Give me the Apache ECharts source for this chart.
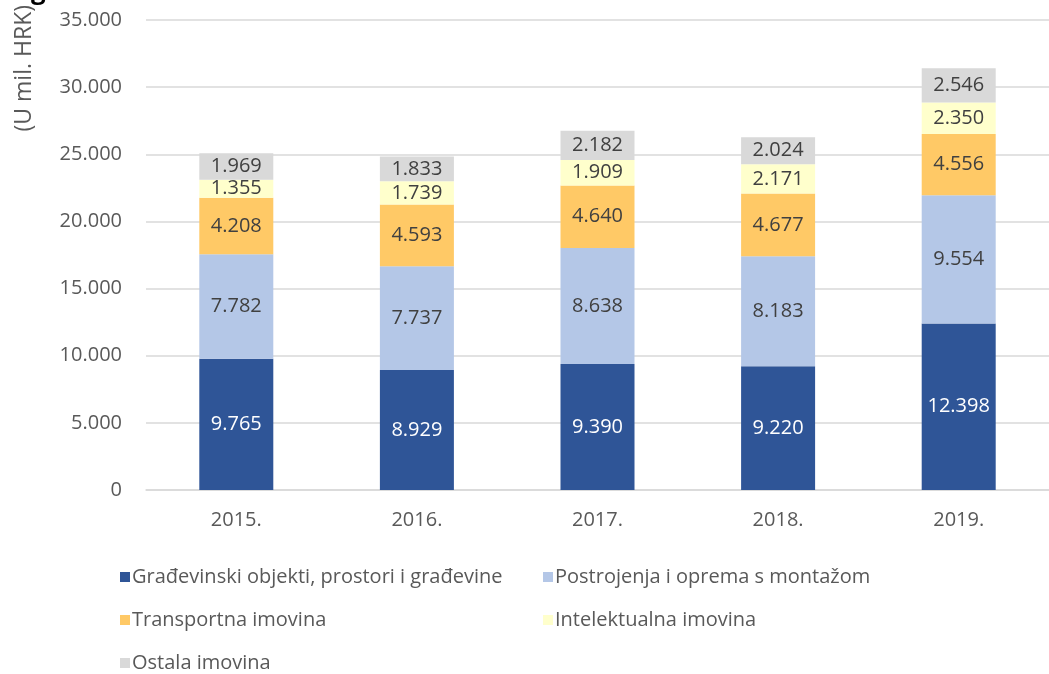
<!DOCTYPE html>
<html>
<head>
<meta charset="UTF-8">
<title>Imovina</title>
<script src="https://cdn.jsdelivr.net/npm/echarts@6/dist/echarts.min.js"></script>
<style>
  html, body { margin: 0; padding: 0; background: #fff; }
  #chart { width: 1049px; height: 674px; }
</style>
</head>
<body>
<div id="chart"></div>
<script>
    var years = ['2015.', '2016.', '2017.', '2018.', '2019.'];
    var gradevinski = [9765, 8929, 9390, 9220, 12398];
    var postrojenja = [7782, 7737, 8638, 8183, 9554];
    var transportna = [4208, 4593, 4640, 4677, 4556];
    var intelektualna = [1355, 1739, 1909, 2171, 2350];
    var ostala = [1969, 1833, 2182, 2024, 2546];
    var names = ['Građevinski objekti, prostori i građevine', 'Postrojenja i oprema s montažom',
        'Transportna imovina', 'Intelektualna imovina', 'Ostala imovina'];
    var colors = ['#2F5597', '#B4C7E7', '#FFC966', '#FFFFCC', '#D9D9D9'];

    var font = '"Open Sans", "Noto Sans", sans-serif';

    // 35000 -> 35.000
    function fmt(v) {
        return String(v).replace(/\B(?=(\d{3})+(?!\d))/g, '.');
    }

    function makeSeries(name, data, color, labelColor) {
        return {
            name: name,
            type: 'bar',
            stack: 'total',
            barWidth: 74,
            data: data,
            itemStyle: {color: color},
            label: {
                show: true,
                position: 'inside',
                color: labelColor,
                fontFamily: font,
                fontSize: 20,
                formatter: function (p) { return fmt(p.value); }
            }
        };
    }

    // legend placed item by item, like the two-column layout of the original
    var legendPos = [[115, 562], [538, 562], [115, 605], [538, 605], [115, 648]];
    var legends = names.map(function (n, i) {
        return {
            data: [n],
            left: legendPos[i][0],
            top: legendPos[i][1],
            itemWidth: 10,
            itemHeight: 10,
            itemGap: 0,
            selectedMode: false,
            icon: 'rect',
            textStyle: {color: '#595959', fontFamily: font, fontSize: 20, padding: [0, 0, 0, -3]}
        };
    });

    var chart = echarts.init(document.getElementById('chart'));
    chart.setOption({
        animation: false,
        backgroundColor: '#fff',
        color: colors,
        grid: {left: 146, top: 20, width: 908, bottom: 184, containLabel: false},
        legend: legends,
        graphic: [{
            type: 'text',
            left: 13,
            top: 5,
            rotation: Math.PI / 2,
            style: {
                text: '(U mil. HRK)',
                fill: '#595959',
                font: '23px "Open Sans", "Noto Sans", sans-serif'
            }
        }, {
            // bottom of a cut-off title letter at the top edge
            type: 'text',
            left: 31,
            top: -21,
            style: {
                text: 'g',
                fill: '#000',
                font: 'bold 26px "Open Sans", "Noto Sans", sans-serif'
            }
        }],
        xAxis: {
            type: 'category',
            data: years,
            axisLine: {lineStyle: {color: '#D9D9D9', width: 1.5}},
            axisTick: {show: false},
            axisLabel: {color: '#595959', fontFamily: font, fontSize: 20, margin: 20}
        },
        yAxis: {
            type: 'value',
            min: 0,
            max: 35000,
            interval: 5000,
            axisLine: {show: false},
            axisTick: {show: false},
            splitLine: {lineStyle: {color: '#D9D9D9', width: 1.5}},
            axisLabel: {color: '#595959', fontFamily: font, fontSize: 20, margin: 24, formatter: fmt}
        },
        series: [
            makeSeries(names[0], gradevinski, colors[0], '#fff'),
            makeSeries(names[1], postrojenja, colors[1], '#404040'),
            makeSeries(names[2], transportna, colors[2], '#404040'),
            makeSeries(names[3], intelektualna, colors[3], '#404040'),
            makeSeries(names[4], ostala, colors[4], '#404040')
        ]
    });
</script>
</body>
</html>
